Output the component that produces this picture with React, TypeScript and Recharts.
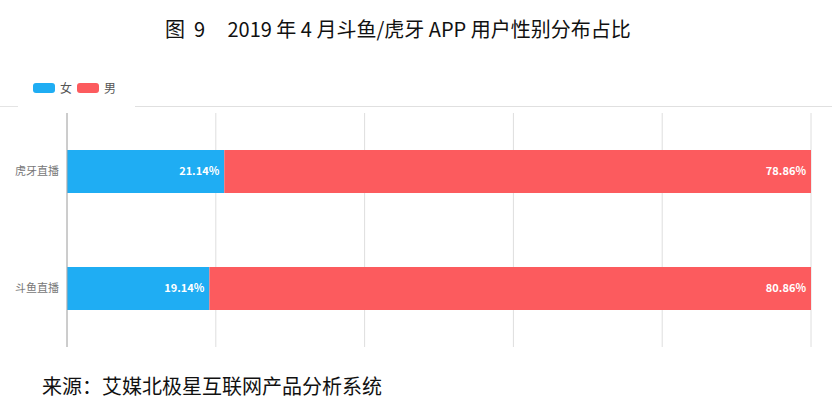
import { BarChart, Bar, XAxis, YAxis, CartesianGrid, LabelList } from "recharts";

const platforms = ["虎牙直播", "斗鱼直播"];
const female = [21.14, 19.14];
const male = [78.86, 80.86];
const xTicks = [0, 20, 40, 60, 80, 100];

const data = platforms.map((name, i) => ({
  name,
  female: female[i],
  male: male[i],
}));

const BLUE = "#1fadf3";
const RED = "#fc5b5e";
const cjk = '"Noto Sans CJK SC", "Noto Sans", sans-serif';

const fmt = (v: any) => `${Number(v).toFixed(2)}%`;

const App = () => {
  return (
    <div
      style={{
        position: "absolute",
        left: 0,
        top: 0,
        width: 839,
        height: 411,
        background: "#fff",
        fontFamily: cjk,
        overflow: "hidden",
      }}
    >
      <div
        style={{
          position: "absolute",
          left: 165,
          top: 14,
          fontSize: 20,
          color: "#111",
          whiteSpace: "pre",
        }}
      >
        {"图  9     2019 年 4 月斗鱼/虎牙 APP 用户性别分布占比"}
      </div>

      {/* legend */}
      <div
        style={{
          position: "absolute",
          left: 33,
          top: 79,
          display: "flex",
          alignItems: "center",
          fontSize: 12,
          color: "#555",
        }}
      >
        <span style={{ width: 22, height: 10, borderRadius: 3, background: BLUE, display: "inline-block" }} />
        <span style={{ marginLeft: 5, marginRight: 5 }}>女</span>
        <span style={{ width: 22, height: 10, borderRadius: 3, background: RED, display: "inline-block" }} />
        <span style={{ marginLeft: 5 }}>男</span>
      </div>
      <div style={{ position: "absolute", left: 0, top: 106, width: 18, height: 1, background: "#e4e4e4" }} />
      <div style={{ position: "absolute", left: 135, top: 106, width: 697, height: 1, background: "#e0e0e0" }} />

      <div style={{ position: "absolute", left: 0, top: 0 }}>
        <BarChart
          width={839}
          height={411}
          data={data}
          layout="vertical"
          margin={{ top: 113, right: 28, bottom: 64, left: 0 }}
        >
          <CartesianGrid horizontal={false} stroke="#dedede" />
          <XAxis
            type="number"
            domain={[0, 100]}
            ticks={xTicks}
            tick={{ fill: "transparent", fontSize: 1 }}
            axisLine={false}
            tickLine={false}
            height={0}
          />
          <YAxis
            type="category"
            dataKey="name"
            width={67}
            axisLine={{ stroke: "#aaa" }}
            tickLine={false}
            tick={{ fill: "#777", fontSize: 11, fontFamily: cjk }}
          />
          <Bar dataKey="female" stackId="a" fill={BLUE} barSize={43} isAnimationActive={false}>
            <LabelList
              dataKey="female"
              position="insideRight"
              formatter={fmt}
              fill="#fff"
              fontSize={11}
              fontWeight="bold"
              fontFamily={cjk}
            />
          </Bar>
          <Bar dataKey="male" stackId="a" fill={RED} barSize={43} isAnimationActive={false}>
            <LabelList
              dataKey="male"
              position="insideRight"
              formatter={fmt}
              fill="#fff"
              fontSize={11}
              fontWeight="bold"
              fontFamily={cjk}
            />
          </Bar>
        </BarChart>
      </div>

      <div
        style={{
          position: "absolute",
          left: 42,
          top: 371,
          fontSize: 20,
          color: "#111",
        }}
      >
        来源：艾媒北极星互联网产品分析系统
      </div>
    </div>
  );
};

export default App;
